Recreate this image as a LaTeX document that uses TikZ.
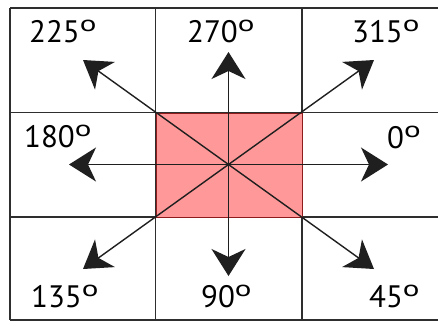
\documentclass[tikz,border=0pt]{standalone}
\usepackage{fontspec}
\setmainfont{PT Sans}
\usetikzlibrary{arrows.meta}
\definecolor{gridc}{HTML}{2E2E2E}
\definecolor{boxfill}{HTML}{FF9999}
\definecolor{boxedge}{HTML}{8E1C1C}
\newcommand{\dg}{\raisebox{11pt}{\scalebox{1}[0.72]{o}}}
\tikzset{
  gridline/.style={draw=gridc, line width=1.4pt},
  dirarrow/.style={draw=black!88, line width=1.4pt, -{Stealth[length=27pt, width=34pt, inset=8pt]}},
  lbl/.style={anchor=base west, inner sep=0pt, font=\fontsize{31}{31}\selectfont, text=black}
}
\begin{document}
\begin{tikzpicture}[x=1pt,y=-1pt]
\useasboundingbox[fill=white] (0,0) rectangle (438,325);
% grid
\foreach \yy in {8,112.7,217,320} \draw[gridline] (10,\yy) -- (440,\yy);
\foreach \xx in {10,155.5,302} \draw[gridline] (\xx,8) -- (\xx,320);
% central box
\node[draw=boxedge, fill=boxfill, line width=1.4pt, minimum width=146.5pt, minimum height=104.3pt, inner sep=0pt, anchor=north west] (box) at (155.5,112.7) {};
\coordinate (c) at (228.5,164.5);
\coordinate (t225) at (83,60);
\coordinate (t270) at (228.5,52);
\coordinate (t315) at (374,60);
\coordinate (t180) at (69,164.5);
\coordinate (t0) at (388,164.5);
\coordinate (t135) at (83,269);
\coordinate (t90) at (228.5,276);
\coordinate (t45) at (374,269);
\foreach \t in {t225,t270,t315,t180,t0,t135,t90,t45} \draw[dirarrow] (c) -- (\t);
% labels
\node[lbl] (l225) at (29,42) {225\dg};
\node[lbl] (l270) at (187,42) {270\dg};
\node[lbl] (l315) at (352,42) {315\dg};
\node[lbl] (l180) at (24,147) {180\dg};
\node[lbl] (l0) at (387,148) {0\dg};
\node[lbl] (l135) at (31,307) {135\dg};
\node[lbl] (l90) at (201,307) {90\dg};
\node[lbl] (l45) at (369,307) {45\dg};
\end{tikzpicture}
\end{document}
